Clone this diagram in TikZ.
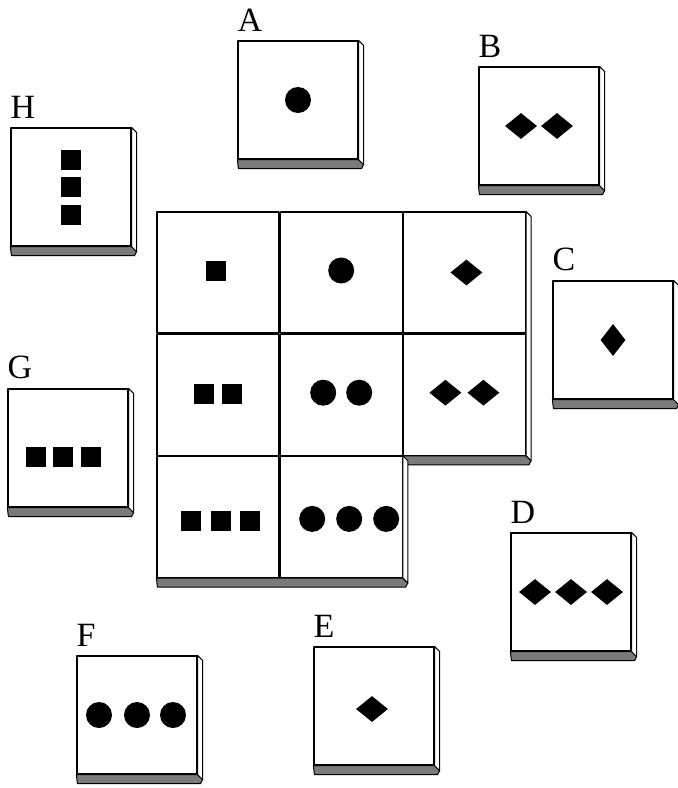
\documentclass[tikz,border=0pt]{standalone}
\usepackage{fontspec}
\setmainfont{Liberation Serif}
\usepackage{tikz}
\usetikzlibrary{positioning,shapes.geometric,calc}
\usepackage{xcolor}
\definecolor{stipple}{HTML}{7A7A7A}

\begin{document}
\begin{tikzpicture}[x=1pt,y=-1pt,line join=round,
  tile/.style={draw,line width=1.2pt,fill=white,minimum width=120pt,minimum height=118pt,inner sep=0},
  cell/.style={draw,line width=1.2pt,fill=white,minimum width=122pt,minimum height=121pt,inner sep=0},
  lab/.style={font=\fontsize{34}{34}\selectfont,inner sep=0},
  side/.style={draw,line width=1pt,fill=white},
  strip/.style={draw,line width=1pt,fill=stipple},
  sq/.style={fill=black,minimum size=20pt,inner sep=0},
  dot/.style={circle,fill=black,minimum size=26pt,inner sep=0},
  dia/.style={diamond,fill=black,minimum width=32pt,minimum height=26pt,inner sep=0},
  vdia/.style={diamond,fill=black,minimum width=25pt,minimum height=32pt,inner sep=0}]
  \useasboundingbox (0,0) rectangle (678,788);

  % answer cards
  \node[tile] (cardA) at (298,100) {};
  \node[tile] (cardB) at (539,126) {};
  \node[tile] (cardC) at (613,340) {};
  \node[tile] (cardD) at (571,592) {};
  \node[tile] (cardE) at (374,706) {};
  \node[tile] (cardF) at (137,715) {};
  \node[tile] (cardG) at (68,448) {};
  \node[tile] (cardH) at (71,187) {};
  \foreach \c/\t in {cardA/A,cardB/B,cardC/C,cardD/D,cardE/E,cardF/F,cardG/G,cardH/H} {
    \node[lab,above right=9pt and 0pt of \c.north west] (lab\t) {\t};
    \draw[strip] (\c.south west) -- (\c.south east) -- ($(\c.south east)+(5,5)$)
      -- ($(\c.south east)+(3,9)$) -- ($(\c.south west)+(1,9)$) -- cycle;
    \draw[side] (\c.north east) -- ($(\c.north east)+(5,5)$) -- ($(\c.south east)+(5,5)$)
      -- (\c.south east) -- cycle;
  }

  \node[dot] (a1) at (cardA.center) {};
  \node[dia] (b1) at ([xshift=-18pt]cardB.center) {};
  \node[dia] (b2) at ([xshift=18pt]cardB.center) {};
  \node[vdia] (c1) at (cardC.center) {};
  \node[dia] (d1) at ([xshift=-36pt]cardD.center) {};
  \node[dia] (d2) at (cardD.center) {};
  \node[dia] (d3) at ([xshift=36pt]cardD.center) {};
  \node[dia] (e1) at ([xshift=-2pt,yshift=-3pt]cardE.center) {};
  \node[dot] (f1) at ([xshift=-38pt]cardF.center) {};
  \node[dot] (f2) at (cardF.center) {};
  \node[dot] (f3) at ([xshift=36pt]cardF.center) {};
  \node[sq] (g1) at ([xshift=-32pt,yshift=-9pt]cardG.center) {};
  \node[sq] (g2) at ([xshift=-5pt,yshift=-9pt]cardG.center) {};
  \node[sq] (g3) at ([xshift=23pt,yshift=-9pt]cardG.center) {};
  \node[sq] (h1) at ([yshift=27pt]cardH.center) {};
  \node[sq] (h2) at (cardH.center) {};
  \node[sq] (h3) at ([yshift=-28pt]cardH.center) {};

  % the matrix
  \node[cell] (c11) at (218,272.5) {};
  \node[cell,right=0pt of c11] (c12) {};
  \node[cell,right=0pt of c12] (c13) {};
  \node[cell,below=0pt of c11] (c21) {};
  \node[cell,right=0pt of c21] (c22) {};
  \node[cell,right=0pt of c22] (c23) {};
  \node[cell,below=0pt of c21] (c31) {};
  \node[cell,right=0pt of c31] (c32) {};

  \draw[side] (c13.north east) -- ($(c13.north east)+(5,5)$) -- ($(c23.south east)+(5,5)$)
    -- (c23.south east) -- cycle;
  \draw[strip] (c23.south west) -- (c23.south east) -- ($(c23.south east)+(5,5)$)
    -- ($(c23.south east)+(3,9)$) -- ($(c23.south west)+(1,9)$) -- cycle;
  \draw[strip] (c31.south west) -- (c32.south east) -- ($(c32.south east)+(5,5)$)
    -- ($(c32.south east)+(3,9)$) -- ($(c31.south west)+(1,9)$) -- cycle;
  \draw[side] (c32.north east) -- ($(c32.north east)+(5,5)$) -- ($(c32.south east)+(5,5)$)
    -- (c32.south east) -- cycle;

  \node[sq] (m11) at ([xshift=-2pt,yshift=2pt]c11.center) {};
  \node[dot] (m12) at ([yshift=2pt]c12.center) {};
  \node[dia] (m13) at ([xshift=2pt]c13.center) {};
  \node[sq] (m21a) at ([xshift=-14pt,yshift=1pt]c21.center) {};
  \node[sq] (m21b) at ([xshift=14pt,yshift=1pt]c21.center) {};
  \node[dot] (m22a) at ([xshift=-18pt,yshift=2pt]c22.center) {};
  \node[dot] (m22b) at ([xshift=18pt,yshift=2pt]c22.center) {};
  \node[dia] (m23a) at ([xshift=-19pt,yshift=2pt]c23.center) {};
  \node[dia] (m23b) at ([xshift=19pt,yshift=2pt]c23.center) {};
  \node[sq] (m31a) at ([xshift=-27pt,yshift=-4pt]c31.center) {};
  \node[sq] (m31b) at ([xshift=3pt,yshift=-4pt]c31.center) {};
  \node[sq] (m31c) at ([xshift=32pt,yshift=-4pt]c31.center) {};
  \node[dot] (m32a) at ([xshift=-29pt,yshift=-2pt]c32.center) {};
  \node[dot] (m32b) at ([xshift=8pt,yshift=-2pt]c32.center) {};
  \node[dot] (m32c) at ([xshift=45pt,yshift=-2pt]c32.center) {};
\end{tikzpicture}
\end{document}
